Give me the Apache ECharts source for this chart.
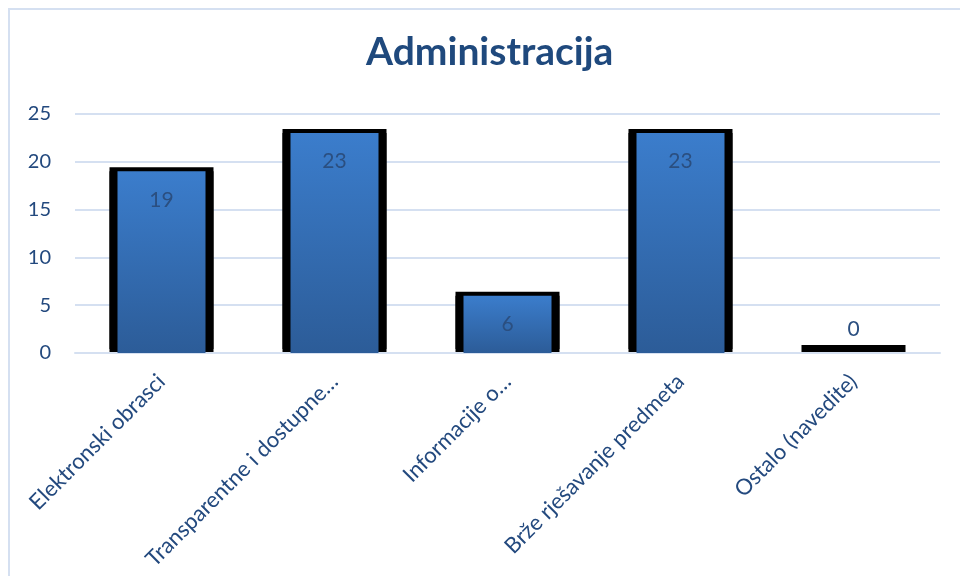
<!DOCTYPE html>
<html>
<head>
<meta charset="utf-8">
<script src="https://cdn.jsdelivr.net/npm/echarts@6/dist/echarts.min.js"></script>
<style>
html,body{margin:0;padding:0;background:#fff;}
#chart{width:960px;height:576px;}
</style>
</head>
<body>
<div id="chart"></div>
<script>
const titleText = 'Administracija';
const categories = ['Elektronski obrasci', 'Transparentne i dostupne…', 'Informacije o…', 'Brže rješavanje predmeta', 'Ostalo (navedite)'];
const values = [19, 23, 6, 23, 0];
const yTicks = [0, 5, 10, 15, 20, 25];

const textColor = '#23497E';
const fontFam = 'Lato, "Open Sans", sans-serif';

const chart = echarts.init(document.getElementById('chart'), null, {renderer: 'canvas'});
chart.setOption({
  backgroundColor: '#ffffff',
  animation: false,
  title: {
    text: titleText,
    left: 361,
    top: 28,
    textStyle: {color: '#1F497D', fontSize: 39, fontWeight: 'bold', fontFamily: fontFam}
  },
  graphic: [{
    type: 'rect',
    shape: {x: 9, y: 9, width: 1000, height: 1000},
    style: {fill: 'none', stroke: '#D5E0F1', lineWidth: 2},
    z: -1
  }],
  grid: {left: 75, right: 20, top: 114, bottom: 223, containLabel: false},
  xAxis: [{
    type: 'category',
    data: categories,
    z: 3,
    axisLine: {show: true, lineStyle: {color: '#D5E0F1', width: 2}},
    axisTick: {show: false},
    axisLabel: {rotate: 45, margin: 25, color: textColor, fontSize: 22, fontFamily: fontFam, interval: 0}
  }, {
    type: 'category',
    data: categories,
    show: false
  }],
  yAxis: {
    type: 'value',
    min: yTicks[0],
    max: yTicks[yTicks.length - 1],
    interval: yTicks[1] - yTicks[0],
    axisLine: {show: false},
    axisTick: {show: false},
    splitLine: {lineStyle: {color: '#D5E0F1', width: 2}},
    axisLabel: {margin: 24, color: textColor, fontSize: 20, fontFamily: fontFam}
  },
  series: [{
    type: 'bar',
    xAxisIndex: 0,
    data: values,
    barWidth: 104,
    barMinHeight: 4,
    itemStyle: {color: '#000000', shadowColor: '#000000', shadowBlur: 0, shadowOffsetX: 0, shadowOffsetY: -4},
    z: 2,
    silent: true
  }, {
    type: 'bar',
    xAxisIndex: 1,
    data: values.map(v => ({value: v, label: {position: v === 0 ? 'top' : 'insideTop', distance: v === 0 ? 13 : 18}})),
    barWidth: 88,
    itemStyle: {
      color: new echarts.graphic.LinearGradient(0, 0, 0, 1, [
        {offset: 0, color: '#3B7DCC'},
        {offset: 1, color: '#2C5C98'}
      ])
    },
    label: {show: true, color: '#2B4F80', fontSize: 21, fontFamily: fontFam},
    z: 3
  }]
});
</script>
</body>
</html>
